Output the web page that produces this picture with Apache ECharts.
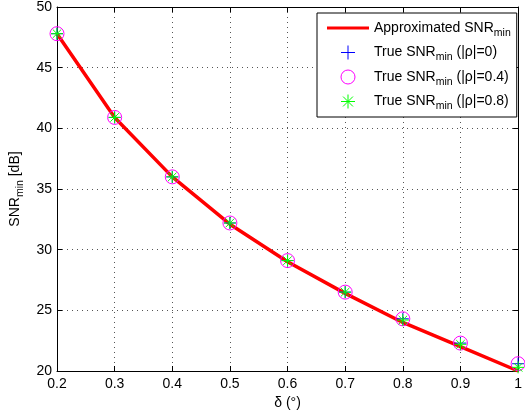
<!DOCTYPE html>
<html>
<head>
<meta charset="utf-8">
<script src="https://cdn.jsdelivr.net/npm/echarts@6/dist/echarts.min.js"></script>
<style>
html,body{margin:0;padding:0;background:#fff;}
#c{width:525px;height:415px;}
</style>
</head>
<body>
<div id="c"></div>
<script>
var deltas = [0.2, 0.3, 0.4, 0.5, 0.6, 0.7, 0.8, 0.9, 1.0];
var approxSNR = [47.8, 40.9, 36.0, 32.1, 29.0, 26.4, 24.0, 22.0, 20.0];
var trueRho0 = [47.8, 40.9, 36.0, 32.2, 29.1, 26.5, 24.3, 22.3, 20.6];
var trueRho04 = [47.8, 40.9, 36.0, 32.2, 29.1, 26.5, 24.3, 22.3, 20.6];
var trueRho08 = [47.8, 40.9, 36.0, 32.2, 29.1, 26.5, 24.2, 22.2, 20.3];
var seriesNames = ['Approximated SNR_min', 'True SNR_min (|ρ|=0)', 'True SNR_min (|ρ|=0.4)', 'True SNR_min (|ρ|=0.8)'];

function pairs(xs, ys) { return xs.map(function (x, i) { return [x, ys[i]]; }); }

var FONT = 'Liberation Sans';
var plusPath = 'path://M6,0V12M0,6H12';
var starPath = 'path://M6,0V12M0,6H12M1.76,1.76L10.24,10.24M1.76,10.24L10.24,1.76';

var chart = echarts.init(document.getElementById('c'), null, {renderer: 'canvas'});

var richText = {
  a: {fontFamily: FONT, fontSize: 14, color: '#000', lineHeight: 21, verticalAlign: 'middle'},
  s: {fontFamily: FONT, fontSize: 10.5, color: '#000', lineHeight: 9, verticalAlign: 'bottom'}
};

function fmtName(name) {
  var parts = name.split('_min');
  return '{a|' + parts[0] + '}{s|min}{a|' + (parts[1] || '') + '}';
}

var gridLine = {show: true, lineStyle: {color: '#555', type: [1, 4], width: 1}};

var option = {
  animation: false,
  backgroundColor: '#fff',
  grid: {left: 57, right: 1, top: 7, bottom: 44, containLabel: false},
  legend: {
    orient: 'vertical',
    left: 317,
    top: 13,
    padding: [8, 6, 5, 10],
    itemGap: 6.5,
    itemWidth: 42,
    itemHeight: 14,
    backgroundColor: '#fff',
    borderColor: '#000',
    borderWidth: 1,
    borderRadius: 0,
    selectedMode: false,
    formatter: fmtName,
    textStyle: {rich: richText, fontFamily: FONT, fontSize: 14, color: '#000'},
    data: [
      {name: seriesNames[0], icon: 'path://M0,0H42V3H0Z', itemStyle: {color: '#ff0000'}},
      {name: seriesNames[1], icon: plusPath, itemStyle: {color: 'transparent', borderColor: '#0000ff', borderWidth: 1}},
      {name: seriesNames[2], icon: 'circle', itemStyle: {color: 'transparent', borderColor: '#ff00ff', borderWidth: 1}},
      {name: seriesNames[3], icon: starPath, itemStyle: {color: 'transparent', borderColor: '#00ff00', borderWidth: 1}}
    ]
  },
  xAxis: [{
    type: 'value', position: 'bottom', min: 0.2, max: 1.0, interval: 0.1,
    name: 'δ (°)', nameLocation: 'middle', nameGap: 22,
    nameTextStyle: {fontFamily: FONT, fontSize: 14, color: '#000'},
    axisLine: {show: true, onZero: false, lineStyle: {color: '#000', width: 1}},
    axisTick: {show: true, inside: true, length: 5, lineStyle: {color: '#000'}},
    axisLabel: {fontFamily: FONT, fontSize: 14, color: '#000', margin: 6,
      formatter: function (v) { return (Math.round(v * 10) / 10).toString(); }},
    splitLine: gridLine
  }, {
    type: 'value', position: 'top', min: 0.2, max: 1.0, interval: 0.1,
    axisLine: {show: true, onZero: false, lineStyle: {color: '#000', width: 1}},
    axisTick: {show: true, inside: true, length: 5, lineStyle: {color: '#000'}},
    axisLabel: {show: false}, splitLine: {show: false}
  }],
  yAxis: [{
    type: 'value', position: 'left', min: 20, max: 50, interval: 5,
    name: '{a|SNR}{s|min}{a| [dB]}', nameLocation: 'middle', nameGap: 31,
    nameTextStyle: {rich: richText, fontFamily: FONT, fontSize: 14, color: '#000'},
    axisLine: {show: true, onZero: false, lineStyle: {color: '#000', width: 1}},
    axisTick: {show: true, inside: true, length: 5, lineStyle: {color: '#000'}},
    axisLabel: {fontFamily: FONT, fontSize: 14, color: '#000', margin: 5},
    splitLine: gridLine
  }, {
    type: 'value', position: 'right', min: 20, max: 50, interval: 5,
    axisLine: {show: true, onZero: false, lineStyle: {color: '#000', width: 1}},
    axisTick: {show: true, inside: true, length: 5, lineStyle: {color: '#000'}},
    axisLabel: {show: false}, splitLine: {show: false}
  }],
  series: [{
    name: seriesNames[0], type: 'line', data: pairs(deltas, approxSNR),
    symbol: 'none', lineStyle: {color: '#ff0000', width: 3.5}, itemStyle: {color: '#ff0000'}, z: 2
  }, {
    name: seriesNames[1], type: 'scatter', data: pairs(deltas, trueRho0),
    symbol: plusPath, symbolSize: 12, clip: false,
    itemStyle: {color: 'transparent', borderColor: '#0000ff', borderWidth: 1, opacity: 1}, z: 3
  }, {
    name: seriesNames[2], type: 'scatter', data: pairs(deltas, trueRho04),
    symbol: 'circle', symbolSize: 14, clip: false,
    itemStyle: {color: 'transparent', borderColor: '#ff00ff', borderWidth: 1, opacity: 1}, z: 3
  }, {
    name: seriesNames[3], type: 'scatter', data: pairs(deltas, trueRho08),
    symbol: starPath, symbolSize: 12, clip: false,
    itemStyle: {color: 'transparent', borderColor: '#00ff00', borderWidth: 1, opacity: 1}, z: 3
  }]
};
chart.setOption(option);
</script>
</body>
</html>
